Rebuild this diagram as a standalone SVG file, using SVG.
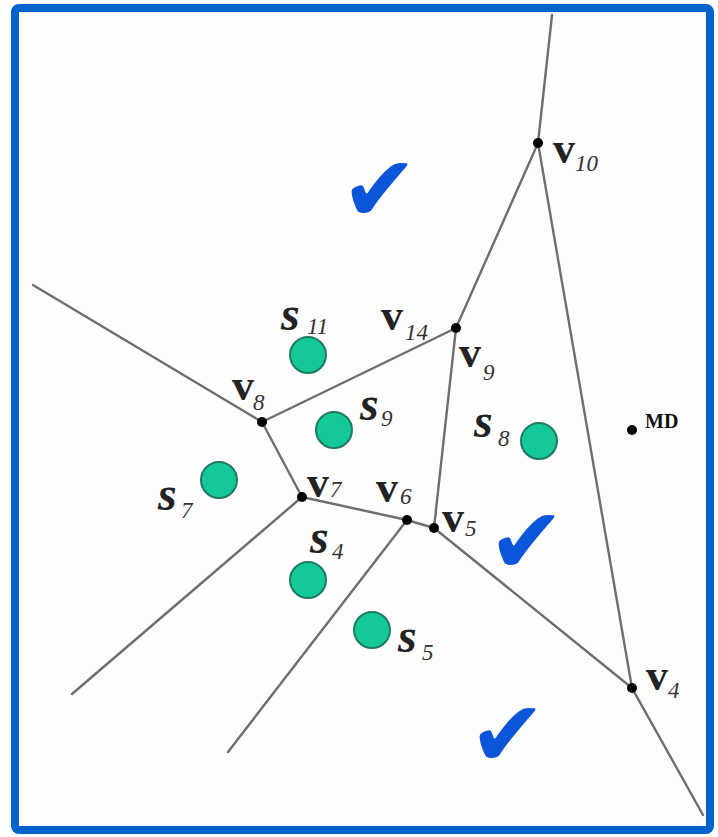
<svg xmlns="http://www.w3.org/2000/svg" width="718" height="837" viewBox="0 0 718 837">
<style>
.e{stroke:#6e6e6e;stroke-width:2.4;fill:none;stroke-linecap:round}
.site{fill:#14c89a;stroke:#1e7a60;stroke-width:2}
.vd{fill:#000}
.s{font-family:"Liberation Serif",serif;font-style:italic;font-weight:bold;font-size:48px;fill:#222}
.v{font-family:"Liberation Serif",serif;font-weight:bold;font-size:44px;fill:#222}
.sub{font-family:"Liberation Serif",serif;font-style:italic;font-size:23px;fill:#333}
.ck{font-family:"DejaVu Sans",sans-serif;font-size:92px;fill:#0a55d8}
.md{font-family:"Liberation Serif",serif;font-weight:bold;font-size:20px;fill:#111}
</style>
<rect x="0" y="0" width="718" height="837" fill="#fff"/>
<rect x="15" y="8" width="695" height="822" rx="4" fill="#fdfdfd" stroke="#0064cc" stroke-width="8"/>
<g id="connectors">
<polyline class="e" points="552,15 538,143 632,688 703,815"/>
<line class="e" x1="538" y1="143" x2="456" y2="328"/>
<line class="e" x1="33" y1="285" x2="262" y2="422"/>
<line class="e" x1="262" y1="422" x2="456" y2="328"/>
<line class="e" x1="262" y1="422" x2="302" y2="497"/>
<polyline class="e" points="302,497 407,520 434,528"/>
<line class="e" x1="434" y1="528" x2="456" y2="328"/>
<line class="e" x1="434" y1="528" x2="632" y2="688"/>
<line class="e" x1="302" y1="497" x2="72" y2="694"/>
<line class="e" x1="407" y1="520" x2="228" y2="752"/>
</g>
<g id="v10"><circle class="vd" cx="538" cy="143" r="5"/><text class="v" x="553" y="163">v</text><text class="sub" x="575" y="171">10</text></g>
<g id="v14"><circle class="vd" cx="456" cy="328" r="5"/><text class="v" x="381" y="330">v</text><text class="sub" x="405" y="340">14</text></g>
<g id="v9"><text class="v" x="459" y="367">v</text><text class="sub" x="483" y="380">9</text></g>
<g id="v8"><circle class="vd" cx="262" cy="422" r="5"/><text class="v" x="232" y="400">v</text><text class="sub" x="253" y="410">8</text></g>
<g id="v7"><circle class="vd" cx="302" cy="497" r="5"/><text class="v" x="307" y="497">v</text><text class="sub" x="330" y="497">7</text></g>
<g id="v6"><circle class="vd" cx="407" cy="520" r="5"/><text class="v" x="376" y="502">v</text><text class="sub" x="400" y="504">6</text></g>
<g id="v5"><circle class="vd" cx="434" cy="528" r="5"/><text class="v" x="442" y="532">v</text><text class="sub" x="465" y="536">5</text></g>
<g id="v4"><circle class="vd" cx="632" cy="688" r="5"/><text class="v" x="646" y="690">v</text><text class="sub" x="668" y="698">4</text></g>
<g id="MD"><circle class="vd" cx="632" cy="430" r="5"/><text class="md" x="645" y="428">MD</text></g>
<g id="s11"><circle class="site" cx="308" cy="355" r="18"/><text class="s" x="281" y="330">s</text><text class="sub" x="307" y="334">11</text></g>
<g id="s9"><circle class="site" cx="334" cy="430" r="18"/><text class="s" x="360" y="420">s</text><text class="sub" x="381" y="426">9</text></g>
<g id="s7"><circle class="site" cx="219" cy="480" r="18"/><text class="s" x="158" y="510">s</text><text class="sub" x="181" y="518">7</text></g>
<g id="s8"><circle class="site" cx="539" cy="441" r="18"/><text class="s" x="474" y="437">s</text><text class="sub" x="498" y="446">8</text></g>
<g id="s4"><circle class="site" cx="308" cy="580" r="18"/><text class="s" x="310" y="553">s</text><text class="sub" x="332" y="559">4</text></g>
<g id="s5"><circle class="site" cx="372" cy="630" r="18"/><text class="s" x="398" y="652">s</text><text class="sub" x="422" y="660">5</text></g>
<g id="checks">
<text class="ck" x="341" y="221">✔</text>
<text class="ck" x="488" y="573">✔</text>
<text class="ck" x="469" y="766">✔</text>
</g>
</svg>
